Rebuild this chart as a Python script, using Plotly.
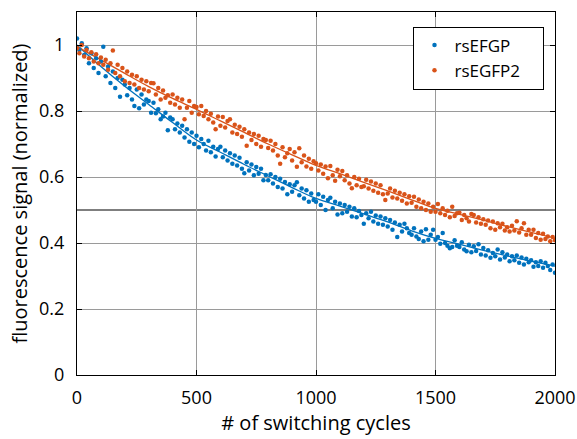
import plotly.graph_objects as go

cycles = list(range(0, 2001, 10))
fit_cycles = list(range(0, 2001, 100))

rsEFGP = [
    1.02, .985, 1.005, .97, .99, .945, .975, .93, .96, .915,
    .95, .995, .905, .935, .885, .92, .87, .90, .843, .895,
    .88, .848, .87, .835, .815, .865, .808, .85, .82, .835,
    .83, .795, .825, .793, .805, .775, .783, .795, .742, .78,
    .775, .745, .762, .735, .755, .72, .745, .707, .735, .70,
    .725, .69, .715, .70, .68, .71, .675, .692, .662, .685,
    .692, .66, .68, .65, .672, .64, .665, .635, .658, .625,
    .611, .645, .62, .638, .605, .63, .61, .625, .59, .606,
    .59, .608, .58, .60, .57, .595, .565, .585, .548, .578,
    .555, .575, .584, .545, .565, .535, .56, .525, .55, .53,
    .525, .548, .515, .54, .50, .53, .537, .505, .525, .486,
    .52, .49, .515, .495, .51, .48, .505, .478, .497, .485,
    .458, .49, .475, .495, .465, .483, .458, .48, .455, .475,
    .45, .47, .44, .462, .418, .455, .435, .458, .445, .43,
    .425, .445, .42, .412, .435, .405, .442, .41, .425, .44,
    .41, .418, .398, .43, .40, .392, .384, .388, .408, .392,
    .388, .402, .38, .375, .395, .372, .39, .376, .396, .365,
    .385, .362, .378, .355, .37, .36, .38, .35, .372, .356,
    .365, .345, .36, .348, .362, .34, .356, .335, .352, .342,
    .348, .328, .342, .33, .345, .325, .34, .33, .318, .335, .31,
]

rsEGFP2 = [
    .99, .975, 1.0, .965, .985, .96, .978, .95, .972, .945,
    .962, .94, .955, .925, .945, .983, .915, .94, .905, .93,
    .89, .92, .885, .91, .88, .905, .87, .895, .865, .89,
    .86, .885, .884, .85, .87, .835, .862, .84, .848, .825,
    .85, .82, .84, .81, .835, .775, .81, .83, .795, .815,
    .812, .79, .815, .785, .80, .775, .792, .765, .745, .783,
    .755, .782, .75, .77, .775, .735, .758, .73, .752, .722,
    .745, .695, .735, .712, .73, .70, .725, .692, .715, .712,
    .688, .71, .68, .70, .665, .64, .69, .66, .672, .685,
    .65, .675, .631, .687, .645, .665, .632, .655, .625, .648,
    .642, .62, .638, .61, .632, .596, .633, .605, .589, .622,
    .602, .618, .59, .605, .58, .566, .60, .575, .595, .57,
    .572, .592, .565, .586, .558, .58, .552, .575, .548, .53,
    .55, .565, .538, .558, .535, .552, .528, .548, .52, .542,
    .522, .54, .51, .532, .505, .525, .50, .52, .495, .51,
    .495, .518, .49, .505, .485, .498, .478, .51, .482, .49,
    .492, .47, .485, .475, .465, .488, .485, .462, .478, .458,
    .472, .455, .468, .445, .465, .44, .46, .448, .458, .438,
    .448, .435, .452, .438, .466, .432, .445, .46, .425, .44,
    .425, .44, .415, .43, .41, .428, .412, .42, .405, .418, .408,
]

fit_rsEFGP = [1.000, .935, .875, .82, .765, .712, .675, .638, .603, .568, .535,
              .512, .488, .464, .437, .414, .396, .378, .361, .345, .330]
fit_rsEGFP2 = [.995, .955, .914, .874, .838, .805, .77, .735, .70, .667, .635,
               .61, .584, .558, .531, .505, .487, .469, .45, .432, .415]

series_names = ["rsEFGP", "rsEGFP2"]

blue = "#0072BD"
orange = "#D95319"
font_family = "Open Sans, Lato, sans-serif"
pad = "\u00a0" * 4

fig = go.Figure()
fig.add_hline(y=0.5, line=dict(color="#7f7f7f", width=2), layer="below")
fig.add_trace(go.Scatter(x=fit_cycles, y=fit_rsEFGP, mode="lines", line=dict(color=blue, width=1.3, shape="spline"), showlegend=False))
fig.add_trace(go.Scatter(x=fit_cycles, y=fit_rsEGFP2, mode="lines", line=dict(color=orange, width=1.3, shape="spline"), showlegend=False))
fig.add_trace(go.Scatter(x=cycles, y=rsEFGP, mode="markers", name=series_names[0] + pad, marker=dict(color=blue, size=4.5)))
fig.add_trace(go.Scatter(x=cycles, y=rsEGFP2, mode="markers", name=series_names[1] + pad, marker=dict(color=orange, size=4.5)))

axis_common = dict(
    showline=True, linecolor="black", linewidth=1, mirror="ticks",
    ticks="inside", ticklen=5, tickcolor="black",
    showgrid=True, gridcolor="#9a9a9a", gridwidth=1, zeroline=False,
    tickfont=dict(family=font_family, size=18, color="black"),
    automargin=False,
)

fig.update_layout(
    width=577, height=439,
    margin=dict(l=77, r=22, t=12, b=64),
    paper_bgcolor="white", plot_bgcolor="white",
    font=dict(family=font_family, color="black"),
    xaxis=dict(range=[0, 2000], tickvals=[0, 500, 1000, 1500, 2000],
               ticklabelstandoff=6,
               title=dict(text="# of switching cycles", font=dict(size=20), standoff=4),
               **axis_common),
    yaxis=dict(range=[0, 1.1], tickvals=[0, 0.2, 0.4, 0.6, 0.8, 1],
               ticktext=["0", "0.2", "0.4", "0.6", "0.8", "1"],
               ticklabelstandoff=8,
               title=dict(text="fluorescence signal (normalized)", font=dict(size=20), standoff=6),
               **axis_common),
    legend=dict(x=0.978, y=0.96, xanchor="right", yanchor="top",
                bgcolor="white", bordercolor="black", borderwidth=1,
                font=dict(family=font_family, size=17)),
)

fig.write_html("out.html")
